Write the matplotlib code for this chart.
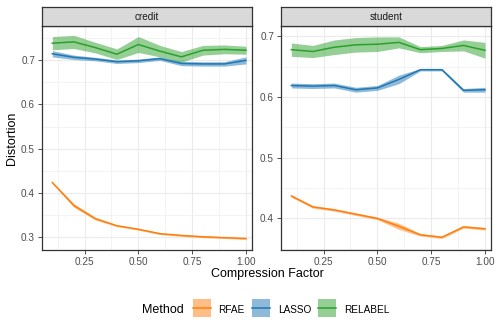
import matplotlib
matplotlib.use('Agg')
import matplotlib.pyplot as plt
from matplotlib.lines import Line2D
from matplotlib.colors import to_rgba
from matplotlib.ticker import MultipleLocator
import numpy as np

plt.rcParams['font.family'] = ['Liberation Sans', 'DejaVu Sans']

x = [0.1, 0.2, 0.3, 0.4, 0.5, 0.6, 0.7, 0.8, 0.9, 1.0]
panels = ['credit', 'student']
methods = ['RFAE', 'LASSO', 'RELABEL']
colors = {'RFAE': '#ff7f0e', 'LASSO': '#1f77b4', 'RELABEL': '#2ca02c'}

# mean distortion per panel / method
credit_rfae = [0.423, 0.371, 0.341, 0.325, 0.317, 0.307, 0.303, 0.300, 0.298, 0.296]
credit_lasso = [0.715, 0.707, 0.703, 0.697, 0.699, 0.704, 0.693, 0.692, 0.692, 0.700]
credit_relabel = [0.739, 0.742, 0.729, 0.714, 0.736, 0.721, 0.708, 0.723, 0.725, 0.723]
student_rfae = [0.437, 0.419, 0.414, 0.407, 0.400, 0.387, 0.373, 0.369, 0.386, 0.383]
student_lasso = [0.619, 0.618, 0.619, 0.612, 0.615, 0.629, 0.645, 0.645, 0.611, 0.612]
student_relabel = [0.678, 0.675, 0.682, 0.686, 0.687, 0.690, 0.678, 0.680, 0.685, 0.677]

# ribbon half widths
credit_rfae_sd = [0.002, 0.004, 0.003, 0.002, 0.002, 0.002, 0.002, 0.002, 0.002, 0.002]
credit_lasso_sd = [0.007, 0.005, 0.004, 0.004, 0.004, 0.004, 0.005, 0.005, 0.005, 0.008]
credit_relabel_sd = [0.015, 0.015, 0.012, 0.012, 0.018, 0.013, 0.012, 0.011, 0.010, 0.009]
student_rfae_sd = [0.002, 0.002, 0.002, 0.002, 0.002, 0.005, 0.002, 0.002, 0.002, 0.002]
student_lasso_sd = [0.004, 0.004, 0.004, 0.004, 0.004, 0.007, 0.002, 0.002, 0.003, 0.004]
student_relabel_sd = [0.011, 0.010, 0.012, 0.012, 0.012, 0.009, 0.005, 0.005, 0.009, 0.013]

data = {
    'credit': {'RFAE': (credit_rfae, credit_rfae_sd),
               'LASSO': (credit_lasso, credit_lasso_sd),
               'RELABEL': (credit_relabel, credit_relabel_sd)},
    'student': {'RFAE': (student_rfae, student_rfae_sd),
                'LASSO': (student_lasso, student_lasso_sd),
                'RELABEL': (student_relabel, student_relabel_sd)},
}
ylims = {'credit': (0.270, 0.778), 'student': (0.348, 0.717)}

W, H = 498, 332
fig = plt.figure(figsize=(W / 100, H / 100), dpi=100)

boxes = {'credit': (42, 252), 'student': (281, 491)}
top, bottom, strip_top = 26, 250, 7

for name in panels:
    x0, x1 = boxes[name]
    ax = fig.add_axes([x0 / W, 1 - bottom / H, (x1 - x0) / W, (bottom - top) / H])
    for m in methods:
        mean, sd = data[name][m]
        mean = np.array(mean)
        sd = np.array(sd)
        ax.fill_between(x, mean - sd, mean + sd, color=colors[m], alpha=0.5, lw=0)
        ax.plot(x, mean, color=colors[m], lw=1.1)
    ax.set_xlim(0.052, 1.028)
    ax.set_ylim(*ylims[name])
    ax.xaxis.set_minor_locator(MultipleLocator(0.125))
    ax.yaxis.set_major_locator(MultipleLocator(0.1))
    ax.yaxis.set_minor_locator(MultipleLocator(0.05))
    ax.set_xticks([0.25, 0.5, 0.75, 1.0])
    ax.set_xticklabels(['0.25', '0.50', '0.75', '1.00'])
    ax.grid(True, which='major', color='#ebebeb', lw=0.8)
    ax.grid(True, which='minor', color='#ebebeb', lw=0.4)
    ax.set_axisbelow(True)
    ax.tick_params(which='minor', length=0)
    ax.tick_params(which='major', length=3, width=0.6, color='#333333',
                   labelsize=7.2, labelcolor='#4d4d4d', pad=2)
    for s in ax.spines.values():
        s.set_color('#333333')
        s.set_linewidth(0.9)

    # facet strip
    sax = fig.add_axes([x0 / W, 1 - top / H, (x1 - x0) / W, (top - strip_top) / H])
    sax.set_facecolor('#d9d9d9')
    sax.set_xticks([])
    sax.set_yticks([])
    for s in sax.spines.values():
        s.set_color('#333333')
        s.set_linewidth(0.9)
    sax.text(0.5, 0.5, name, ha='center', va='center', fontsize=7.2,
             color='#1a1a1a', transform=sax.transAxes)

fig.text(267 / W, 1 - 273.5 / H, 'Compression Factor', ha='center', va='center', fontsize=9)
fig.text(12 / W, 1 - 138 / H, 'Distortion', ha='center', va='center', fontsize=9, rotation=90)

# legend keys: translucent square + line, like ggplot ribbon keys
handles = []
for m in methods:
    box = Line2D([], [], marker='s', markersize=12.4, linestyle='none',
                 markerfacecolor=to_rgba(colors[m], 0.5), markeredgewidth=0)
    line = Line2D([], [], color=colors[m], lw=1.1)
    handles.append((box, line))
fig.legend(handles, methods, loc='center', bbox_to_anchor=(291 / W, 1 - 309.5 / H), ncol=3,
           frameon=False, fontsize=7.2, handlelength=1.8, handleheight=1.7,
           handletextpad=0.8, columnspacing=0.7, borderpad=0)
fig.text(142 / W, 1 - 310 / H, 'Method', ha='left', va='center', fontsize=9)

fig.savefig('out.png', dpi=100)
